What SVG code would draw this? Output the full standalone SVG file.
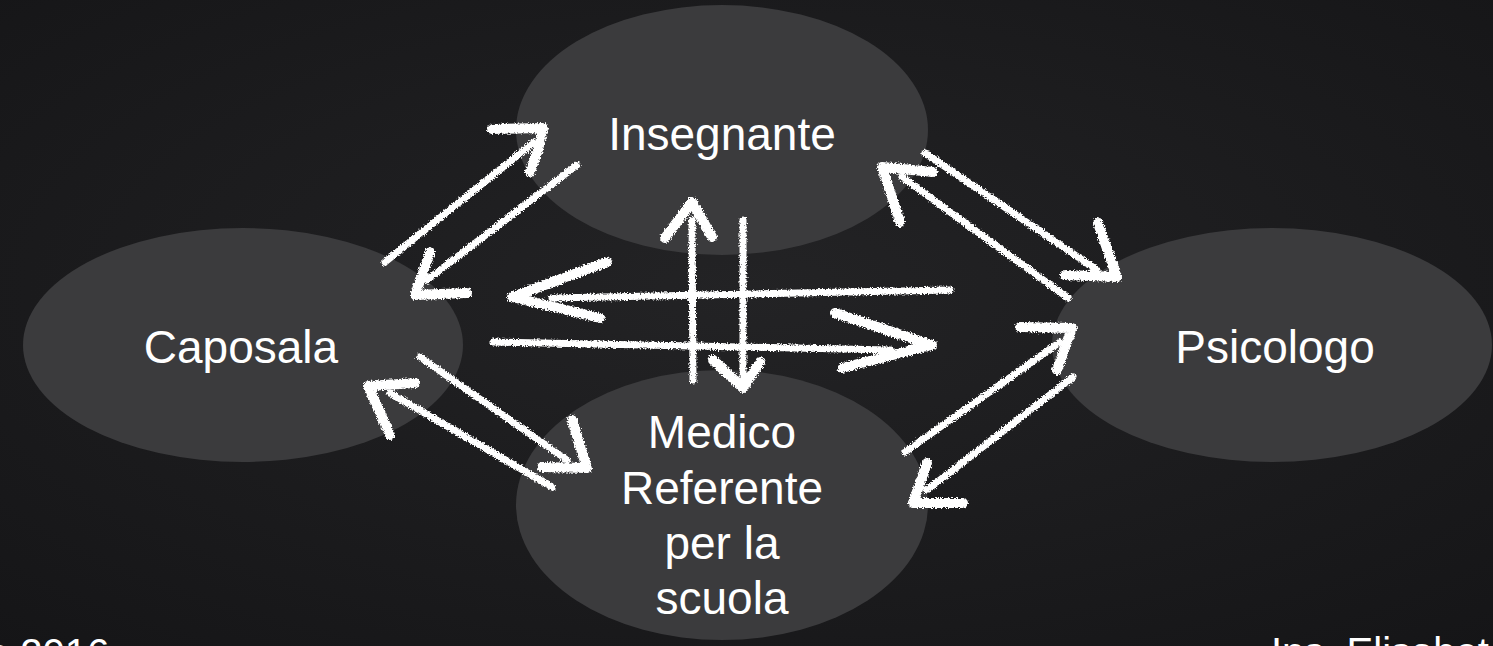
<svg xmlns="http://www.w3.org/2000/svg" width="1493" height="646" viewBox="0 0 1493 646">
<defs>
<radialGradient id="bg" cx="50%" cy="45%" r="75%">
<stop offset="0" stop-color="#232325"/>
<stop offset="1" stop-color="#151517"/>
</radialGradient>
<filter id="chalk" x="-10%" y="-10%" width="120%" height="120%">
<feTurbulence type="fractalNoise" baseFrequency="0.7" numOctaves="2" seed="3" result="n"/>
<feDisplacementMap in="SourceGraphic" in2="n" scale="5" xChannelSelector="R" yChannelSelector="G"/>
</filter>
<style>
.node{fill:#3b3b3d}
.lbl{font-family:"Liberation Sans",Arial,sans-serif;font-size:46px;fill:#ffffff;text-anchor:middle}
.foot{font-family:"Liberation Sans",Arial,sans-serif;font-size:40px;fill:#ffffff}
.ln{fill:none;stroke:#ffffff;stroke-width:7;stroke-linecap:round;stroke-linejoin:round}
.hd{fill:none;stroke:#ffffff;stroke-width:10;stroke-linecap:round;stroke-linejoin:round}
</style>
</defs>
<rect width="1493" height="646" fill="url(#bg)"/>
<g id="node-insegnante">
<ellipse class="node" cx="722" cy="130" rx="206" ry="125"/>
<text class="lbl" x="722" y="150">Insegnante</text>
</g>
<g id="node-caposala">
<ellipse class="node" cx="243" cy="345" rx="220" ry="117"/>
<text class="lbl" x="241" y="363">Caposala</text>
</g>
<g id="node-psicologo">
<ellipse class="node" cx="1272" cy="345" rx="220" ry="117"/>
<text class="lbl" x="1275" y="363">Psicologo</text>
</g>
<g id="node-medico">
<ellipse class="node" cx="722" cy="505" rx="206" ry="135"/>
<text class="lbl" x="722" y="448">Medico</text>
<text class="lbl" x="722" y="504">Referente</text>
<text class="lbl" x="722" y="559">per la</text>
<text class="lbl" x="722" y="614">scuola</text>
</g>
<g id="connectors" filter="url(#chalk)">
<path class="ln" d="M385 262 L533 143"/>
<path class="hd" d="M492 129 L543 128 L538 150 L530 172"/>
<path class="ln" d="M577 165 L427 280"/>
<path class="hd" d="M430 252 L415 295 L467 293"/>
<path class="ln" d="M925 153 L1097 270"/>
<path class="hd" d="M1098 223 L1117 277 L1065 275"/>
<path class="ln" d="M1068 298 L902 177"/>
<path class="hd" d="M933 172 L882 167 L900 222"/>
<path class="ln" d="M420 357 L567 460"/>
<path class="hd" d="M572 420 L587 468 L542 467"/>
<path class="ln" d="M552 487 L390 393"/>
<path class="hd" d="M415 383 L368 386 L390 435"/>
<path class="ln" d="M905 452 L1060 342"/>
<path class="hd" d="M1020 327 L1072 328 L1057 370"/>
<path class="ln" d="M1073 377 L927 490"/>
<path class="hd" d="M927 463 L913 503 L963 503"/>
<path class="ln" d="M950 290 L552 298"/>
<path class="hd" d="M607 262 L512 297 L600 318"/>
<path class="ln" d="M493 342 L890 350"/>
<path class="hd" d="M835 313 L932 345 L842 368"/>
<path class="ln" d="M693 380 L692 220"/>
<path class="hd" d="M665 238 L692 202 L712 237"/>
<path class="ln" d="M743 220 L743 380"/>
<path class="hd" d="M713 360 L743 388 L760 362"/>
</g>
<text class="foot" x="-13" y="667">o 2016</text>
<text class="foot" x="1271" y="666">Ins. Elisabet</text>
</svg>
